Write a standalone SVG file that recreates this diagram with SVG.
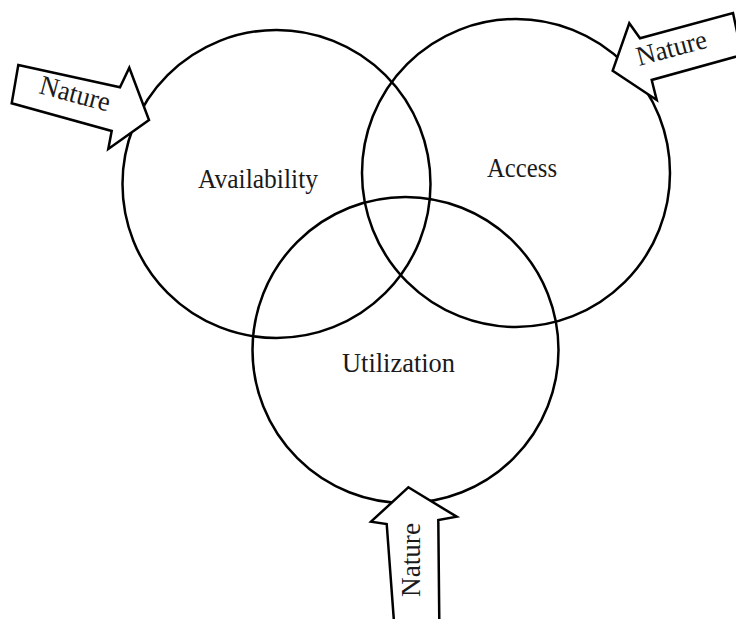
<svg xmlns="http://www.w3.org/2000/svg" width="736" height="619" viewBox="0 0 736 619">
<style>
.c{fill:none;stroke:#000;stroke-width:2.5}
.a{fill:#fff;stroke:#000;stroke-width:2.5;stroke-linejoin:miter}
.t{font-family:"Liberation Serif","Times New Roman",serif;font-size:27px;fill:#1a1a1a}
.n{font-family:"Liberation Serif","Times New Roman",serif;font-size:27.5px;fill:#1a1a1a}
</style>
<rect width="736" height="619" fill="#fff"/>
<g id="availability">
<circle class="c" cx="276.5" cy="184" r="154"/>
<text class="t" x="198" y="188" textLength="120" lengthAdjust="spacingAndGlyphs">Availability</text>
</g>
<g id="access">
<circle class="c" cx="516" cy="173" r="154"/>
<text class="t" x="487" y="177" textLength="70" lengthAdjust="spacingAndGlyphs">Access</text>
</g>
<g id="utilization">
<circle class="c" cx="405.5" cy="350" r="153"/>
<text class="t" x="342" y="372" textLength="113" lengthAdjust="spacingAndGlyphs">Utilization</text>
</g>
<g id="connectors">
<g id="nature-left">
<polygon class="a" points="18.3,65 120,87.3 129.3,67.7 149,120 108.3,149 111.7,131 11.7,103.3"/>
<text class="n" transform="translate(38,93) rotate(15)" textLength="72" lengthAdjust="spacingAndGlyphs">Nature</text>
</g>
<g id="nature-right">
<polygon class="a" points="612.7,70.7 629.3,23.3 640,38.3 733,13 742,55 651.7,80 656.7,100"/>
<text class="n" transform="translate(639,66) rotate(-15)" textLength="72" lengthAdjust="spacingAndGlyphs">Nature</text>
</g>
<g id="nature-bottom">
<polygon class="a" points="408.3,487.3 371,521.7 386.7,524 394,622 439.3,622 438.3,520 456.7,516.7"/>
<text class="n" transform="translate(420,597) rotate(-90)" textLength="74" lengthAdjust="spacingAndGlyphs">Nature</text>
</g>
</g>
</svg>
